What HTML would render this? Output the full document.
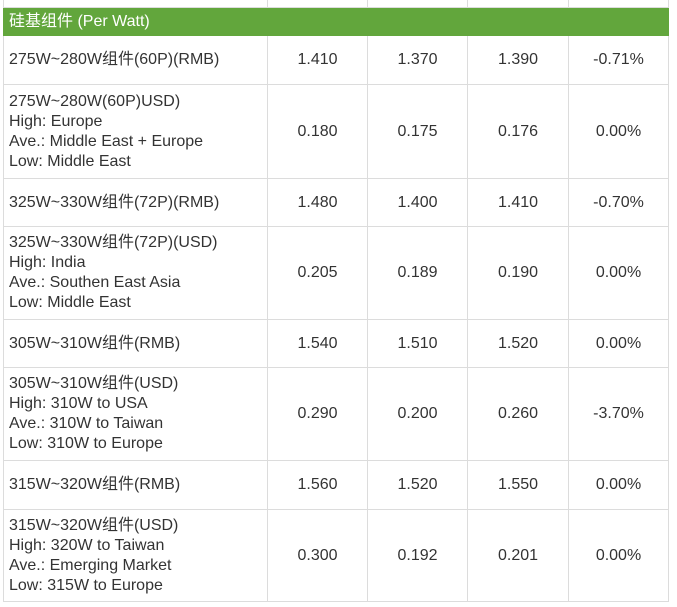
<!DOCTYPE html>
<html><head><meta charset="utf-8"><style>
body{margin:0;background:#fff;width:677px;height:607px;position:relative;overflow:hidden;font-family:"Liberation Sans","Noto Sans CJK SC",sans-serif;font-size:16px;color:#333}
table{position:absolute;left:3px;top:-10px;border-collapse:collapse;table-layout:fixed;width:665px}
td{border:1px solid #dcdcdc;padding:0 5px;line-height:20px;vertical-align:middle;white-space:nowrap}
td.n{text-align:center;padding:0}
tr.g td{background:#62a63c;color:#fff;border-color:#62a63c}
</style></head><body>
<table>
<colgroup><col style="width:264px"><col style="width:100px"><col style="width:100px"><col style="width:101px"><col style="width:100px"></colgroup>
<tr style="height:17px"><td></td><td></td><td></td><td></td><td></td></tr>
<tr class="g" style="height:28px"><td colspan="5">硅基组件 (Per Watt)</td></tr>
<tr style="height:49px"><td>275W~280W组件(60P)(RMB)</td><td class="n">1.410</td><td class="n">1.370</td><td class="n">1.390</td><td class="n">-0.71%</td></tr>
<tr style="height:94px"><td>275W~280W(60P)USD)<br>High: Europe<br>Ave.: Middle East + Europe<br>Low: Middle East</td><td class="n">0.180</td><td class="n">0.175</td><td class="n">0.176</td><td class="n">0.00%</td></tr>
<tr style="height:48px"><td>325W~330W组件(72P)(RMB)</td><td class="n">1.480</td><td class="n">1.400</td><td class="n">1.410</td><td class="n">-0.70%</td></tr>
<tr style="height:93px"><td>325W~330W组件(72P)(USD)<br>High: India<br>Ave.: Southen East Asia<br>Low: Middle East</td><td class="n">0.205</td><td class="n">0.189</td><td class="n">0.190</td><td class="n">0.00%</td></tr>
<tr style="height:48px"><td>305W~310W组件(RMB)</td><td class="n">1.540</td><td class="n">1.510</td><td class="n">1.520</td><td class="n">0.00%</td></tr>
<tr style="height:93px"><td>305W~310W组件(USD)<br>High: 310W to USA<br>Ave.: 310W to Taiwan<br>Low: 310W to Europe</td><td class="n">0.290</td><td class="n">0.200</td><td class="n">0.260</td><td class="n">-3.70%</td></tr>
<tr style="height:49px"><td>315W~320W组件(RMB)</td><td class="n">1.560</td><td class="n">1.520</td><td class="n">1.550</td><td class="n">0.00%</td></tr>
<tr style="height:92px"><td>315W~320W组件(USD)<br>High: 320W to Taiwan<br>Ave.: Emerging Market<br>Low: 315W to Europe</td><td class="n">0.300</td><td class="n">0.192</td><td class="n">0.201</td><td class="n">0.00%</td></tr>
</table>
</body></html>
